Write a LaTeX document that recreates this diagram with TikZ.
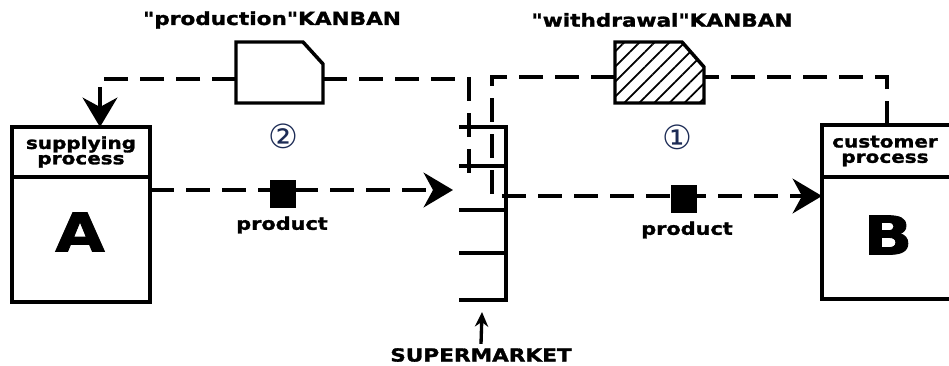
\documentclass[tikz,border=0pt]{standalone}
\usepackage{fontspec}
\setmainfont{DejaVu Sans}
\newfontfamily\wide[FakeStretch=1.2,FakeBold=1.6]{DejaVu Sans}
\usetikzlibrary{arrows.meta,patterns.meta}
\definecolor{circ}{HTML}{1C2B55}
\begin{document}
\begin{tikzpicture}[x=0.75pt,y=-0.75pt,
  boxline/.style={line width=2.6pt},
  dashline/.style={line width=3pt, dash pattern=on 18pt off 9pt},
  arr/.style={-{Stealth[length=22pt,width=26pt,inset=7pt]}},
  lbl/.style={inner sep=0pt, font=\wide\bfseries\fontsize{13.5}{13.5}\selectfont},
  hdr/.style={inner sep=0pt, align=center, font=\wide\bfseries\fontsize{12.5}{11.5}\selectfont},
  big/.style={inner sep=0pt, font=\wide\bfseries\fontsize{40}{40}\selectfont},
  prod/.style={inner sep=0pt, font=\wide\bfseries\fontsize{13}{13}\selectfont},
  pbox/.style={fill=black, inner sep=0pt, minimum width=20pt, minimum height=21pt},
  num/.style={inner sep=0pt, text=circ, font=\fontsize{25}{25}\selectfont}]
\useasboundingbox (0,0) rectangle (949,365);
% coordinates
\coordinate (Atop) at (100,127);
\coordinate (Aout) at (150,190);
\coordinate (Pw) at (236,79);
\coordinate (Pe) at (323,79);
\coordinate (Sdown) at (469,175);
\coordinate (Sin) at (453,190);
\coordinate (Ww) at (615,77);
\coordinate (We) at (704,77);
\coordinate (Btop) at (887,125);
\coordinate (Bin) at (822,196);
% supplying process A
\draw[boxline] (12,127) rectangle (150,302);
\draw[boxline] (12,177) -- (150,177);
\node[hdr] (hA) at (81,152) {supplying\\process};
\node[big] (A) at (80,232) {A};
% customer process B
\draw[boxline] (822,125) rectangle (965,299);
\draw[boxline] (822,177) -- (965,177);
\node[hdr] (hB) at (885,151) {customer\\process};
\node[big] (B) at (888,235) {B};
% supermarket
\draw[line width=3pt] (459,127) -- (506,127) -- (506,300) -- (459,300);
\foreach \y in {166,210,253} \draw[line width=3pt] (459,\y) -- (506,\y);
% production kanban card
\draw[boxline] (236,42) -- (303,42) -- (323,64) -- (323,103) -- (236,103) -- cycle;
\node[lbl] (pk) at (272,20) {"production"KANBAN};
% withdrawal kanban card
\draw[boxline, pattern={Lines[angle=45,distance=8pt,line width=1.3pt]}]
  (615,42) -- (682,42) -- (704,67) -- (704,103) -- (615,103) -- cycle;
\node[lbl] (wk) at (662,20) {"withdrawal"KANBAN};
% production kanban loop
\draw[dashline, arr] (Pw) -- (100,79) -- (Atop);
\draw[dashline] (Pe) -- (469,79) -- (Sdown);
% withdrawal kanban loop
\draw[dashline] (Btop) -- (887,77) -- (We);
\draw[dashline, arr] (Ww) -- (492,77) -- (492,196) -- (Bin);
% product flow A -> supermarket
\draw[dashline, arr] (Aout) -- (Sin);
\node[pbox] (p1) at (283,194) {};
\node[prod] (p1l) at (282,225) {product};
\node[pbox] (p2) at (684,199) {};
\node[prod] (p2l) at (687,230) {product};
% numbers
\node[num] (n2) at (283,136) {②};
\node[num] (n1) at (677,137) {①};
% supermarket label
\node[lbl] (sm) at (481,355) {SUPERMARKET};
\draw[line width=2.5pt, -{Stealth[length=11pt,width=10pt]}] (sm.north) ++(0,-4) -- (482,312);
\end{tikzpicture}
\end{document}
